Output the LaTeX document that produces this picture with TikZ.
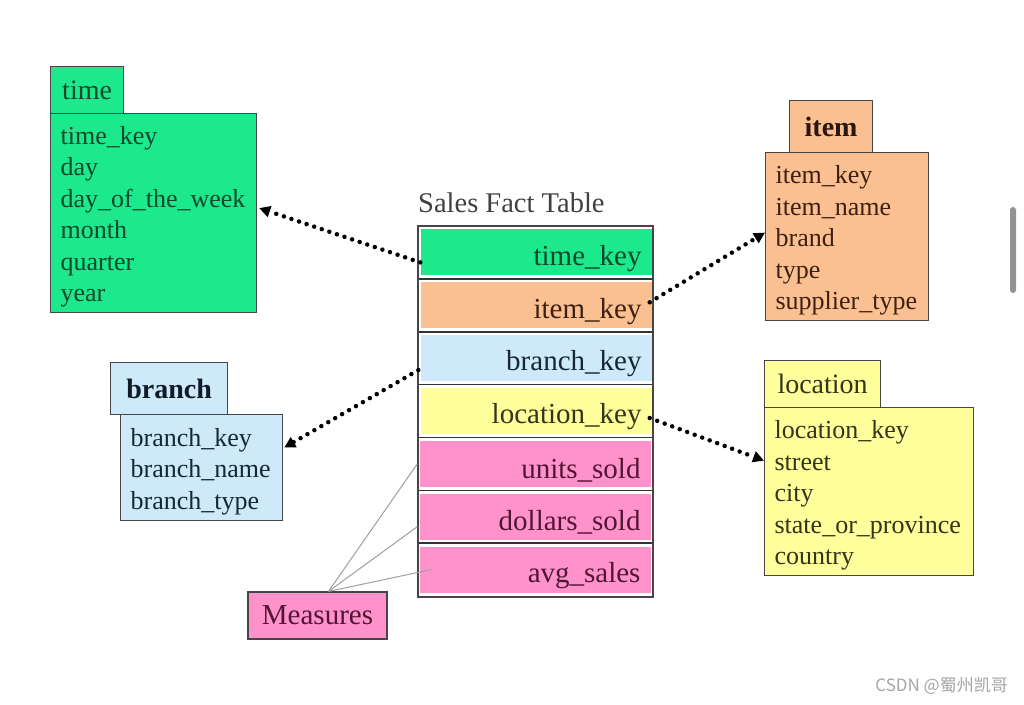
\documentclass[tikz,border=0pt]{standalone}
\usepackage{fontspec}
\setmainfont{Liberation Serif}
\newfontfamily\cjkfont{Noto Sans CJK SC}
\usetikzlibrary{arrows.meta}
\definecolor{bordc}{RGB}{70,70,70}
\definecolor{gfill}{RGB}{28,232,140}
\definecolor{ofill}{RGB}{250,192,146}
\definecolor{bfill}{RGB}{206,233,250}
\definecolor{yfill}{RGB}{255,255,155}
\definecolor{pfill}{RGB}{255,146,202}
\definecolor{gtext}{RGB}{12,72,42}
\definecolor{otext}{RGB}{62,32,16}
\definecolor{btext}{RGB}{22,40,56}
\definecolor{ytext}{RGB}{52,52,22}
\definecolor{ptext}{RGB}{82,22,52}
\newcommand\toprule{\rule{0pt}{25.5pt}}
\newcommand\rowrule{\rule{0pt}{32pt}}
\begin{document}
\begin{tikzpicture}[x=1pt,y=-1pt,
  hdr/.style={draw=bordc, line width=1.2pt, anchor=north west, inner sep=0pt, font=\fontsize{28}{30}\selectfont},
  body/.style={draw=bordc, line width=1.2pt, anchor=north west, inner xsep=10pt, inner ysep=0pt, align=left, font=\fontsize{26}{31.5}\selectfont},
  factrow/.style={draw=none, minimum height=46pt, inner xsep=10pt, inner ysep=0pt, text width=211pt, align=right, font=\fontsize{29}{30}\selectfont},
  sepline/.style={draw=black!80, line width=1.6pt},
  dotarrow/.style={line width=4.5pt, dash pattern=on 0pt off 8pt, line cap=round, -{Triangle[length=11pt,width=11pt]}},
  mline/.style={draw=gray!75, line width=1pt}]
\useasboundingbox (0,0) rectangle (1024,704);
\fill[white] (0,0) rectangle (1024,704);

% time table
\node[body, fill=gfill, text=gtext, minimum height=199pt, text width=186pt] (timebody) at (50,113) {\toprule time\_key\\day\\day\_of\_the\_week\\month\\quarter\\year};
\node[hdr, fill=gfill, text=gtext, minimum width=73pt, minimum height=47pt] (timehdr) at (50,66) {time};

% item table
\node[body, fill=ofill, text=otext, minimum height=168pt, text width=143pt] (itembody) at (765,152) {\toprule item\_key\\item\_name\\brand\\type\\supplier\_type};
\node[hdr, fill=ofill, text=otext!70!black, minimum width=83pt, minimum height=52pt, font=\fontsize{28}{30}\selectfont\bfseries] (itemhdr) at (789,100) {item};

% branch table
\node[body, fill=bfill, text=btext, minimum height=106pt, text width=142pt] (branchbody) at (120,414) {\toprule branch\_key\\branch\_name\\branch\_type};
\node[hdr, fill=bfill, text=btext!70!black, minimum width=117pt, minimum height=52pt, font=\fontsize{28}{30}\selectfont\bfseries] (branchhdr) at (110,362) {branch};

% location table
\node[body, fill=yfill, text=ytext, minimum height=168pt, text width=189pt] (locbody) at (764,407) {\toprule location\_key\\street\\city\\state\_or\_province\\country};
\node[hdr, fill=yfill, text=ytext, minimum width=116pt, minimum height=47pt] (lochdr) at (764,360) {location};

% fact table
\node[anchor=west, font=\fontsize{28.5}{30}\selectfont, text=black!75, inner sep=0pt] (facttitle) at (418,203) {Sales Fact Table};
\node[draw=bordc, line width=1.2pt, anchor=north west, minimum width=234pt, minimum height=370pt, inner sep=0pt] (fact) at (418,226) {};
\node[factrow, fill=gfill, text=gtext] (r1) at (536,252.4) {\rowrule time\_key};
\node[factrow, fill=ofill, text=otext] (r2) at (536,305.3) {\rowrule item\_key};
\node[factrow, fill=bfill, text=btext] (r3) at (536,358.1) {\rowrule branch\_key};
\node[factrow, fill=yfill, text=ytext] (r4) at (536,411.0) {\rowrule location\_key};
\node[factrow, fill=pfill, text=ptext] (r5) at (535,463.9) {\rowrule units\_sold};
\node[factrow, fill=pfill, text=ptext] (r6) at (535,516.7) {\rowrule dollars\_sold};
\node[factrow, fill=pfill, text=ptext] (r7) at (535,569.6) {\rowrule avg\_sales};
\foreach \yy in {278.9,331.7,384.6,437.4,490.3,543.1}
  \draw[sepline] (418,\yy) -- (652,\yy);
\draw[draw=bordc, line width=1.2pt] (fact.north west) rectangle (fact.south east);

% measures
\node[draw=bordc, line width=1.2pt, fill=pfill, text=ptext, minimum width=139pt, minimum height=47pt, inner sep=0pt, font=\fontsize{29}{30}\selectfont] (meas) at (317.5,615.5) {Measures};
\draw[mline] ([xshift=11pt]meas.north) -- ([xshift=-2pt]r5.west);
\draw[mline] ([xshift=11pt]meas.north) -- ([xshift=-2pt,yshift=-10pt]r6.west);
\draw[mline] ([xshift=11pt]meas.north) -- ([xshift=12pt]r7.west);

% dotted arrows
\draw[dotarrow] ([yshift=-10pt]r1.west) -- ([xshift=2pt,yshift=5pt]timebody.east);
\draw[dotarrow] ([xshift=-2pt,yshift=3pt]r2.east) -- ([yshift=4pt]itembody.west);
\draw[dotarrow] ([xshift=-2pt,yshift=-12pt]r3.west) -- ([xshift=1pt,yshift=20pt]branchbody.east);
\draw[dotarrow] ([xshift=-2pt,yshift=-7pt]r4.east) -- ([yshift=31pt]locbody.west);

% watermark and scrollbar
\node[anchor=east, text=gray!70, font=\cjkfont\fontsize{17}{18}\selectfont, inner sep=0pt] (wm) at (1008,686) {CSDN @蜀州凯哥};
\node[fill=gray!85, rounded corners=3pt, minimum width=6pt, minimum height=86pt, inner sep=0pt] (scroll) at (1013,250) {};
\end{tikzpicture}
\end{document}
